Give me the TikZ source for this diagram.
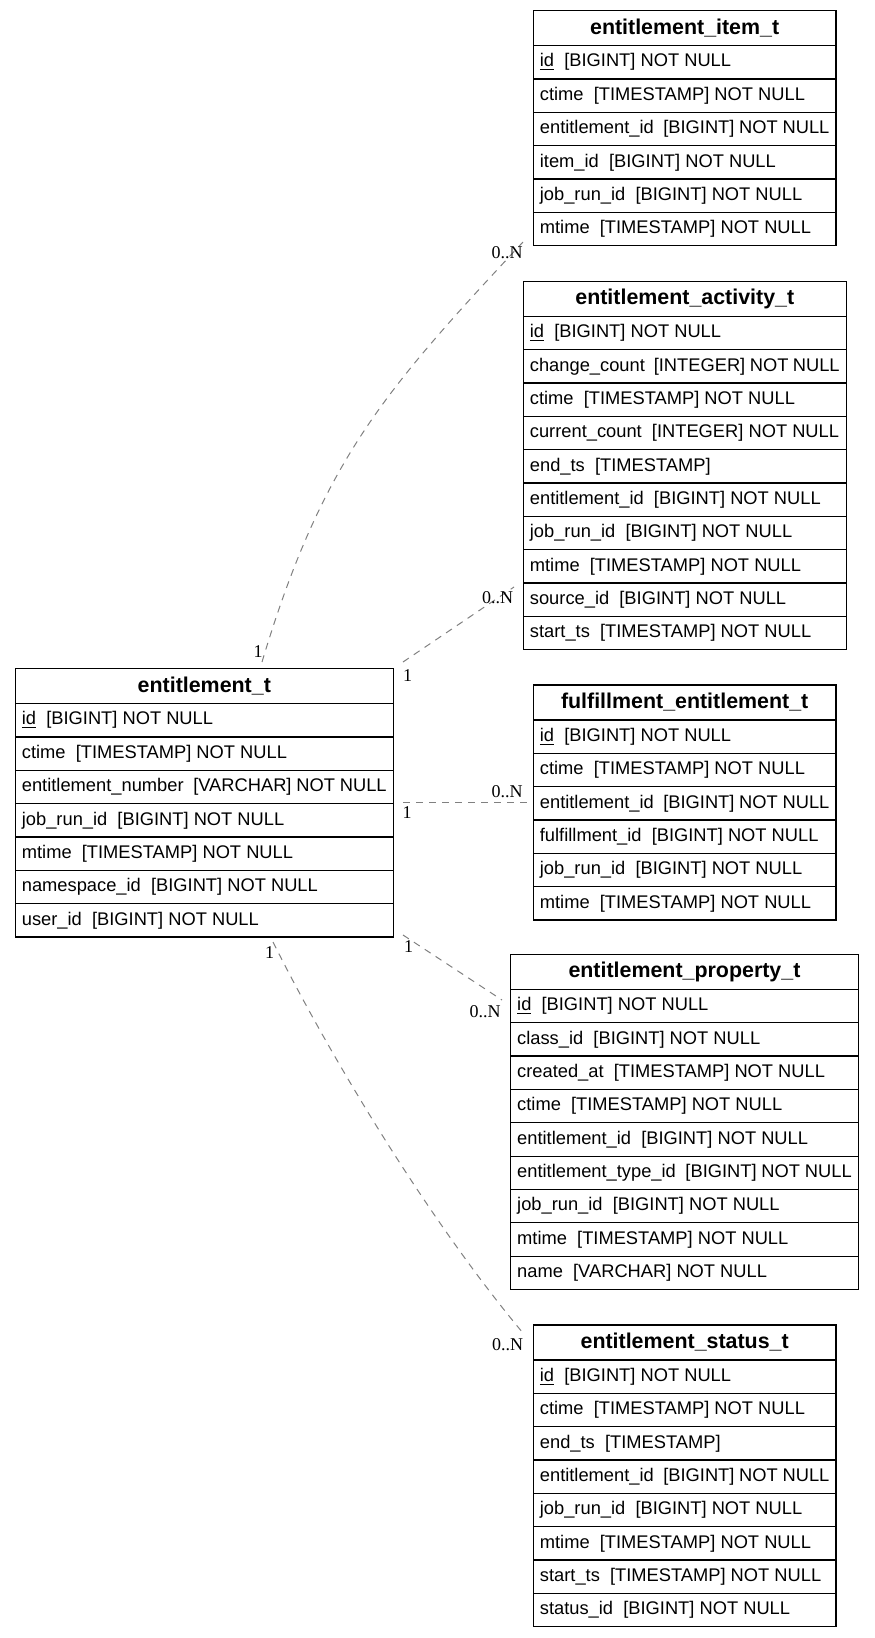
\documentclass[tikz,border=0pt]{standalone}
\usepackage{fontspec}
\setmainfont{Liberation Sans}
\newfontfamily\cardfont{Liberation Serif}
\usepackage{tikz}

\begin{document}
\begin{tikzpicture}[x=0.5pt, y=-0.5pt,
    tbl/.style={draw=black, line width=0.6pt, outer sep=0pt, inner xsep=3.3pt, inner ysep=0pt, anchor=north west},
    hdr/.style={tbl, minimum height=17.5pt, font=\fontsize{10.7pt}{12pt}\selectfont\bfseries,
        execute at begin node={\hbox to #1\bgroup\hfil}, execute at end node={\hfil\egroup}},
    fld/.style={tbl, minimum height=16.67pt, font=\fontsize{9.15pt}{11pt}\selectfont,
        execute at begin node={\hbox to #1\bgroup}, execute at end node={\hfil\egroup}},
    rel/.style={draw=gray, line width=0.5pt, dash pattern=on 3.5pt off 3pt},
    card/.style={inner sep=0pt, font=\fontsize{9pt}{11pt}\cardfont}]

        \useasboundingbox (0,0) rectangle (874,1638);

        % entitlement_item_t
        \node[hdr=144.75pt] (it) at (533.3,10.7) {entitlement\_item\_t};
        \node[fld=144.75pt] (it1) at (it.south west) {\underline{id}\ \ [BIGINT] NOT NULL};
        \node[fld=144.75pt] (it2) at (it1.south west) {ctime\ \ [TIMESTAMP] NOT NULL};
        \node[fld=144.75pt] (it3) at (it2.south west) {entitlement\_id\ \ [BIGINT] NOT NULL};
        \node[fld=144.75pt] (it4) at (it3.south west) {item\_id\ \ [BIGINT] NOT NULL};
        \node[fld=144.75pt] (it5) at (it4.south west) {job\_run\_id\ \ [BIGINT] NOT NULL};
        \node[fld=144.75pt] (it6) at (it5.south west) {mtime\ \ [TIMESTAMP] NOT NULL};

        % entitlement_activity_t
        \node[hdr=154.9pt] (ac) at (523.3,281.3) {entitlement\_activity\_t};
        \node[fld=154.9pt] (ac1) at (ac.south west) {\underline{id}\ \ [BIGINT] NOT NULL};
        \node[fld=154.9pt] (ac2) at (ac1.south west) {change\_count\ \ [INTEGER] NOT NULL};
        \node[fld=154.9pt] (ac3) at (ac2.south west) {ctime\ \ [TIMESTAMP] NOT NULL};
        \node[fld=154.9pt] (ac4) at (ac3.south west) {current\_count\ \ [INTEGER] NOT NULL};
        \node[fld=154.9pt] (ac5) at (ac4.south west) {end\_ts\ \ [TIMESTAMP]};
        \node[fld=154.9pt] (ac6) at (ac5.south west) {entitlement\_id\ \ [BIGINT] NOT NULL};
        \node[fld=154.9pt] (ac7) at (ac6.south west) {job\_run\_id\ \ [BIGINT] NOT NULL};
        \node[fld=154.9pt] (ac8) at (ac7.south west) {mtime\ \ [TIMESTAMP] NOT NULL};
        \node[fld=154.9pt] (ac9) at (ac8.south west) {source\_id\ \ [BIGINT] NOT NULL};
        \node[fld=154.9pt] (ac10) at (ac9.south west) {start\_ts\ \ [TIMESTAMP] NOT NULL};

        % entitlement_t
        \node[hdr=182.4pt] (et) at (15.3,668.7) {entitlement\_t};
        \node[fld=182.4pt] (et1) at (et.south west) {\underline{id}\ \ [BIGINT] NOT NULL};
        \node[fld=182.4pt] (et2) at (et1.south west) {ctime\ \ [TIMESTAMP] NOT NULL};
        \node[fld=182.4pt] (et3) at (et2.south west) {entitlement\_number\ \ [VARCHAR] NOT NULL};
        \node[fld=182.4pt] (et4) at (et3.south west) {job\_run\_id\ \ [BIGINT] NOT NULL};
        \node[fld=182.4pt] (et5) at (et4.south west) {mtime\ \ [TIMESTAMP] NOT NULL};
        \node[fld=182.4pt] (et6) at (et5.south west) {namespace\_id\ \ [BIGINT] NOT NULL};
        \node[fld=182.4pt] (et7) at (et6.south west) {user\_id\ \ [BIGINT] NOT NULL};

        % fulfillment_entitlement_t
        \node[hdr=144.75pt] (fe) at (533.3,685) {fulfillment\_entitlement\_t};
        \node[fld=144.75pt] (fe1) at (fe.south west) {\underline{id}\ \ [BIGINT] NOT NULL};
        \node[fld=144.75pt] (fe2) at (fe1.south west) {ctime\ \ [TIMESTAMP] NOT NULL};
        \node[fld=144.75pt] (fe3) at (fe2.south west) {entitlement\_id\ \ [BIGINT] NOT NULL};
        \node[fld=144.75pt] (fe4) at (fe3.south west) {fulfillment\_id\ \ [BIGINT] NOT NULL};
        \node[fld=144.75pt] (fe5) at (fe4.south west) {job\_run\_id\ \ [BIGINT] NOT NULL};
        \node[fld=144.75pt] (fe6) at (fe5.south west) {mtime\ \ [TIMESTAMP] NOT NULL};

        % entitlement_property_t
        \node[hdr=167.25pt] (pr) at (510.6,954.4) {entitlement\_property\_t};
        \node[fld=167.25pt] (pr1) at (pr.south west) {\underline{id}\ \ [BIGINT] NOT NULL};
        \node[fld=167.25pt] (pr2) at (pr1.south west) {class\_id\ \ [BIGINT] NOT NULL};
        \node[fld=167.25pt] (pr3) at (pr2.south west) {created\_at\ \ [TIMESTAMP] NOT NULL};
        \node[fld=167.25pt] (pr4) at (pr3.south west) {ctime\ \ [TIMESTAMP] NOT NULL};
        \node[fld=167.25pt] (pr5) at (pr4.south west) {entitlement\_id\ \ [BIGINT] NOT NULL};
        \node[fld=167.25pt] (pr6) at (pr5.south west) {entitlement\_type\_id\ \ [BIGINT] NOT NULL};
        \node[fld=167.25pt] (pr7) at (pr6.south west) {job\_run\_id\ \ [BIGINT] NOT NULL};
        \node[fld=167.25pt] (pr8) at (pr7.south west) {mtime\ \ [TIMESTAMP] NOT NULL};
        \node[fld=167.25pt] (pr9) at (pr8.south west) {name\ \ [VARCHAR] NOT NULL};

        % entitlement_status_t
        \node[hdr=144.75pt] (st) at (533.3,1325) {entitlement\_status\_t};
        \node[fld=144.75pt] (st1) at (st.south west) {\underline{id}\ \ [BIGINT] NOT NULL};
        \node[fld=144.75pt] (st2) at (st1.south west) {ctime\ \ [TIMESTAMP] NOT NULL};
        \node[fld=144.75pt] (st3) at (st2.south west) {end\_ts\ \ [TIMESTAMP]};
        \node[fld=144.75pt] (st4) at (st3.south west) {entitlement\_id\ \ [BIGINT] NOT NULL};
        \node[fld=144.75pt] (st5) at (st4.south west) {job\_run\_id\ \ [BIGINT] NOT NULL};
        \node[fld=144.75pt] (st6) at (st5.south west) {mtime\ \ [TIMESTAMP] NOT NULL};
        \node[fld=144.75pt] (st7) at (st6.south west) {start\_ts\ \ [TIMESTAMP] NOT NULL};
        \node[fld=144.75pt] (st8) at (st7.south west) {status\_id\ \ [BIGINT] NOT NULL};

        % relation ends
        \coordinate (r1a) at (262,662);
        \coordinate (r1b) at (523,242);
        \coordinate (r2a) at (403,662);
        \coordinate (r2b) at (514,587);
        \coordinate (r3a) at (403,802);
        \coordinate (r3b) at (527,802);
        \coordinate (r4a) at (403,935);
        \coordinate (r4b) at (502,1000);
        \coordinate (r5a) at (273,942);
        \coordinate (r5b) at (523,1333);

        \draw[rel] (r1a) .. controls (322,462) and (383,392) .. (r1b);
        \draw[rel] (r2a) -- (r2b);
        \draw[rel] (r3a) -- (r3b);
        \draw[rel] (r4a) -- (r4b);
        \draw[rel] (r5a) .. controls (333,1062) and (431,1223) .. (r5b);

        % cardinalities
        \node[card] (c1a) at (258,652) {1};
        \node[card] (c1b) at (507,253) {0..N};
        \node[card] (c2a) at (407.5,676) {1};
        \node[card] (c2b) at (497.5,597.5) {0..N};
        \node[card] (c3a) at (407,813) {1};
        \node[card] (c3b) at (507,791.5) {0..N};
        \node[card] (c4a) at (408.5,946.5) {1};
        \node[card] (c4b) at (485,1011.5) {0..N};
        \node[card] (c5a) at (269.5,952.5) {1};
        \node[card] (c5b) at (507.5,1345) {0..N};
    \end{tikzpicture}
\end{document}
